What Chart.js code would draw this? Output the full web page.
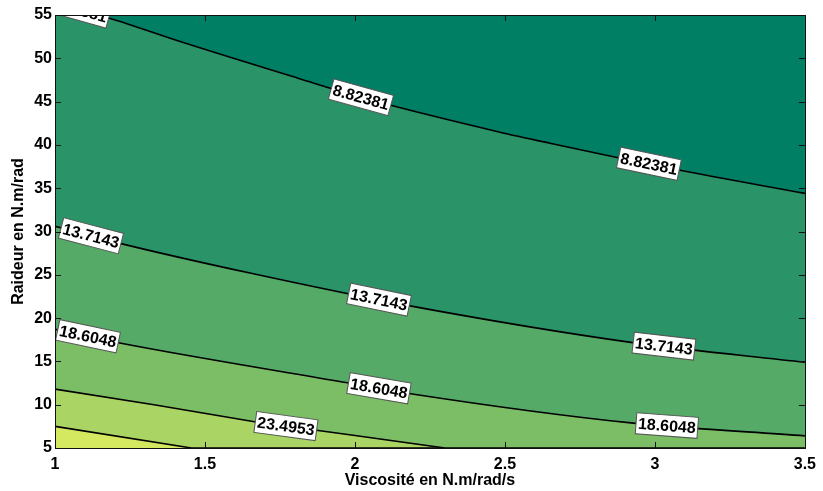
<!DOCTYPE html>
<html>
<head>
<meta charset="utf-8">
<script src="https://cdn.jsdelivr.net/npm/chart.js@4.4.1/dist/chart.umd.min.js"></script>
<style>
  html, body { margin: 0; padding: 0; background: #fff; }
</style>
</head>
<body>
<canvas id="myChart" width="823" height="491"></canvas>
<script>
// contour levels (labels)
const levels = ["8.82381", "13.7143", "18.6048", "23.4953", "28.3858"];

// contour lines (viscosity, stiffness)
const lineA_x = [1, 1.18, 1.42, 1.81, 2.02, 2.48, 2.65, 3.08, 3.5];
const lineA_y = [56.4, 54.65, 51.9, 47.7, 45.5, 41.5, 40.2, 37.1, 34.4];
const lineB_x = [1, 1.22, 1.65, 2.17, 2.92, 3.5];
const lineB_y = [30.6, 28.6, 25.2, 21.5, 17.2, 14.9];
const lineC_x = [1, 1.22, 1.98, 2.18, 2.92, 3.5];
const lineC_y = [18.7, 17.1, 12.5, 11.3, 7.9, 6.4];
const lineD_x = [1, 1.33, 1.67, 2.0, 2.3, 3.5];
const lineD_y = [11.8, 10.0, 8.0, 6.45, 5.0, 5.0];
const lineE_x = [1, 1.455, 3.5];
const lineE_y = [7.5, 5.0, 5.0];

// where the inline labels sit (x along each line)
const labelA_x = [1.08, 2.02, 2.98];
const labelB_x = [1.12, 2.08, 3.03];
const labelC_x = [1.11, 2.08, 3.04];
const labelD_x = [1.77];
const labelE_x = [];

const xTicks = [1, 1.5, 2, 2.5, 3, 3.5];
const yTicks = [5, 10, 15, 20, 25, 30, 35, 40, 45, 50, 55];

// summer-like colormap, top region first, bottom-left region last
const fillColors = ["rgb(0,127,100)", "rgb(42,147,104)", "rgb(84,170,102)",
                    "rgb(124,190,102)", "rgb(170,213,100)", "rgb(213,233,96)"];

const lines = [
  { xs: lineA_x, ys: lineA_y, lab: labelA_x, smooth: true },
  { xs: lineB_x, ys: lineB_y, lab: labelB_x, smooth: true },
  { xs: lineC_x, ys: lineC_y, lab: labelC_x, smooth: true },
  { xs: lineD_x, ys: lineD_y, lab: labelD_x, smooth: false },
  { xs: lineE_x, ys: lineE_y, lab: labelE_x, smooth: false },
];

const pts = (xs, ys) => xs.map((x, i) => ({ x: x, y: ys[i] }));

const datasets = lines.map((l, i) => ({
  label: levels[i],
  data: pts(l.xs, l.ys),
  borderColor: "#000",
  borderWidth: 1.6,
  pointRadius: 0,
  tension: 0,
  cubicInterpolationMode: l.smooth ? "monotone" : "default",
  clip: 0,
  fill: "end",
  backgroundColor: fillColors[i],
}));

function yAt(xs, ys, x) {
  for (let i = 0; i < xs.length - 1; i++) {
    if (x >= xs[i] && x <= xs[i + 1]) {
      const t = (x - xs[i]) / (xs[i + 1] - xs[i]);
      return ys[i] + t * (ys[i + 1] - ys[i]);
    }
  }
  return ys[ys.length - 1];
}

const bgPlugin = {
  id: "bg",
  beforeDatasetsDraw(chart) {
    const { ctx, chartArea: a } = chart;
    ctx.save();
    ctx.fillStyle = fillColors[5];
    ctx.fillRect(a.left, a.top, a.right - a.left, a.bottom - a.top);
    ctx.restore();
  },
};

const labelPlugin = {
  id: "contourLabels",
  afterDatasetsDraw(chart) {
    const { ctx, chartArea: a, scales } = chart;
    const sx = scales.x, sy = scales.y;
    ctx.save();
    ctx.beginPath();
    ctx.rect(a.left, a.top, a.right - a.left, a.bottom - a.top);
    ctx.clip();
    ctx.font = "bold 16px 'Liberation Sans', Arial, sans-serif";
    ctx.textAlign = "center";
    ctx.textBaseline = "middle";
    lines.forEach((l, i) => {
      l.lab.forEach(x => {
        const px = sx.getPixelForValue(x), py = sy.getPixelForValue(yAt(l.xs, l.ys, x));
        const p1x = sx.getPixelForValue(x - 0.05), p1y = sy.getPixelForValue(yAt(l.xs, l.ys, x - 0.05));
        const p2x = sx.getPixelForValue(x + 0.05), p2y = sy.getPixelForValue(yAt(l.xs, l.ys, x + 0.05));
        const ang = Math.atan2(p2y - p1y, p2x - p1x);
        const w = ctx.measureText(levels[i]).width + 4, h = 21;
        ctx.save();
        ctx.translate(px, py);
        ctx.rotate(ang);
        ctx.fillStyle = "#fff";
        ctx.fillRect(-w / 2, -h / 2, w, h);
        ctx.strokeStyle = "#555";
        ctx.lineWidth = 1;
        ctx.strokeRect(-w / 2, -h / 2, w, h);
        ctx.fillStyle = "#000";
        ctx.fillText(levels[i], 0, 1);
        ctx.restore();
      });
    });
    ctx.restore();
  },
};

const boxPlugin = {
  id: "box",
  afterDraw(chart) {
    const { ctx, chartArea: a, scales } = chart;
    ctx.save();
    ctx.strokeStyle = "#111";
    ctx.lineWidth = 1;
    ctx.beginPath();
    xTicks.forEach(v => {
      const px = Math.round(scales.x.getPixelForValue(v)) + 0.5;
      ctx.moveTo(px, a.bottom); ctx.lineTo(px, a.bottom - 6);
      ctx.moveTo(px, a.top); ctx.lineTo(px, a.top + 6);
    });
    yTicks.forEach(v => {
      const py = Math.round(scales.y.getPixelForValue(v)) + 0.5;
      ctx.moveTo(a.left, py); ctx.lineTo(a.left + 6, py);
      ctx.moveTo(a.right, py); ctx.lineTo(a.right - 6, py);
    });
    ctx.stroke();
    ctx.strokeRect(Math.round(a.left) + 0.5, Math.round(a.top) + 0.5,
                   Math.round(a.right - a.left), Math.round(a.bottom - a.top));
    ctx.restore();
  },
};

const tickFont = { family: "'Liberation Sans', Arial, sans-serif", size: 16, weight: "bold" };

new Chart(document.getElementById("myChart"), {
  type: "line",
  data: { datasets: datasets },
  options: {
    responsive: false,
    animation: false,
    layout: { padding: { left: 0, top: 15, right: 16, bottom: 0 } },
    plugins: { legend: { display: false }, tooltip: { enabled: false } },
    scales: {
      x: {
        type: "linear",
        min: 1, max: 3.5,
        afterFit: s => { s.height = 43; },
        afterBuildTicks: s => { s.ticks = xTicks.map(v => ({ value: v })); },
        grid: { display: false, drawTicks: false },
        border: { display: false },
        ticks: { color: "#000", font: tickFont, padding: 7, maxRotation: 0, callback: v => String(v) },
        title: { display: true, text: "Viscosité en N.m/rad/s", color: "#000", font: tickFont, padding: { top: 0, bottom: 1 } },
      },
      y: {
        type: "linear",
        min: 5, max: 55,
        afterFit: s => { s.width = 55; },
        afterBuildTicks: s => { s.ticks = yTicks.map(v => ({ value: v })); },
        grid: { display: false, drawTicks: false },
        border: { display: false },
        ticks: { color: "#000", font: tickFont, padding: 3, callback: v => String(v) },
        title: { display: true, text: "Raideur en N.m/rad", color: "#000", font: tickFont, padding: { top: 9, bottom: 0 } },
      },
    },
  },
  plugins: [bgPlugin, labelPlugin, boxPlugin],
});
</script>
</body>
</html>
